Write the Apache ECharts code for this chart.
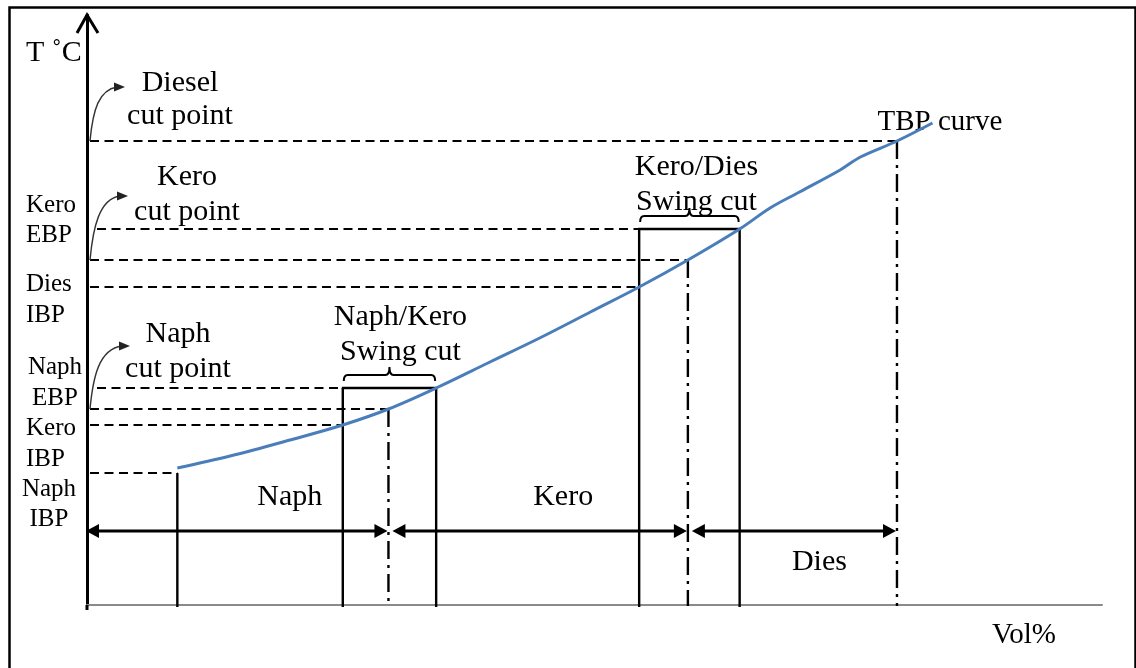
<!DOCTYPE html>
<html>
<head>
<meta charset="utf-8">
<script src="https://cdn.jsdelivr.net/npm/echarts@6/dist/echarts.min.js"></script>
<style>
  html, body { margin: 0; padding: 0; background: #fff; }
  #chart { width: 1136px; height: 668px; }
</style>
</head>
<body>
<div id="chart"></div>
<script>
// ---- data -------------------------------------------------------------
// TBP curve: volume distilled (%) against boiling temperature
const tbpVol  = [8.9, 14.1, 20.0, 25.2, 29.7, 34.4, 39.7, 44.6, 49.6, 54.4, 59.2, 64.3, 67.3, 70.2, 74.2, 76.2, 79.8, 83.3];
const tbpTemp = [137, 149, 165, 180, 196, 217, 243, 267, 293, 318, 345, 376, 397, 413, 435, 448, 464, 482];

// Characteristic points read on the TBP curve
const pointNames = ['Naph IBP', 'Kero IBP', 'Naph cut point', 'Naph EBP', 'Dies IBP', 'Kero cut point', 'Kero EBP', 'Diesel cut point'];
const pointVol   = [8.9, 25.2, 29.7, 34.4, 54.4, 59.2, 64.3, 79.8];
const pointTemp  = [132, 180, 196, 217, 318, 345, 376, 464];

// Swing cuts: from the heavier product's IBP up to the lighter product's EBP
const swingNames   = ['Naph/Kero', 'Kero/Dies'];
const swingStart   = ['Kero IBP', 'Dies IBP'];
const swingEnd     = ['Naph EBP', 'Kero EBP'];
const swingCaption = 'Swing cut';

// Products lie between successive cut points
const productNames = ['Naph', 'Kero', 'Dies'];
const productFrom  = [null, 'Naph cut point', 'Kero cut point'];
const productTo    = ['Naph cut point', 'Kero cut point', 'Diesel cut point'];

const axisNameX = 'Vol%';
const axisNameY = 'T ˚C';
const curveName = 'TBP curve';

// ---- look & layout ----------------------------------------------------
const FONT = '"Liberation Serif", "Times New Roman", Times, serif';
const BIG = 30, SIDE = 25;
const INK = '#000';
const CURVE = '#4a7ebb';
const DASH = [9, 5.5];
const DASH_DOT = [18, 6, 3, 6];
const ARROW_LEVEL = 74;          // px above the Vol% axis for the range arrows

const sideLabelLayout = {
  'Kero EBP': { x: 26, align: 'left',   dy: [-16, 14] },
  'Dies IBP': { x: 26, align: 'left',   dy: [5, 36] },
  'Naph EBP': { x: 55, align: 'center', dy: [-13, 18] },
  'Kero IBP': { x: 26, align: 'left',   dy: [11, 42] },
  'Naph IBP': { x: 49, align: 'center', dy: [24, 54] }
};
const cutLabelLayout = {
  'Naph cut point':   { tip: [43, -63], dx: 91,  dy: [-65, -30] },
  'Kero cut point':   { tip: [41, -64], dx: 100, dy: [-73, -38] },
  'Diesel cut point': { tip: [38, -54], dx: 93,  dy: [-48, -15] }
};
const swingLayout   = [{ dx: 11, dy: [-61, -26] }, { dx: 7, dy: [-52, -17] }];
const productLayout = [{ dx: 52, dy: -24 }, { dx: 25, dy: -24 }, { dx: 27, dy: 41 }];

// ---- helpers ----------------------------------------------------------
const idx = name => pointNames.indexOf(name);
const volOf = name => (name == null ? 0 : pointVol[idx(name)]);
const tempOf = name => pointTemp[idx(name)];
const splitName = name => { const k = name.indexOf(' '); return [name.slice(0, k), name.slice(k + 1)]; };

function textEl(str, x, baseline, size, align) {
  return {
    type: 'text', x: x, y: baseline - 0.32 * size,
    style: { text: str, fill: INK, font: size + 'px ' + FONT, align: align || 'center', verticalAlign: 'middle' }
  };
}
function seg(x1, y1, x2, y2, width, dash, color) {
  return {
    type: 'line', shape: { x1: x1, y1: y1, x2: x2, y2: y2 },
    style: { stroke: color || INK, lineWidth: width, lineDash: dash || null, lineCap: 'butt' }
  };
}
function head(tipX, tipY, dir, len, half, color) {
  const bx = tipX - dir * len;
  return {
    type: 'polygon',
    shape: { points: [[tipX, tipY], [bx, tipY - half], [bx, tipY + half]] },
    style: { fill: color || INK }
  };
}

// ---- renderers --------------------------------------------------------
function renderPoint(params, api) {
  const name = pointNames[params.dataIndex];
  const p = api.coord([api.value(0), api.value(1)]);
  const axisX = api.coord([0, api.value(1)])[0];
  const yBase = api.coord([0, 0])[1];
  const isCut = name.indexOf('cut point') >= 0;
  const isEBP = /EBP$/.test(name);
  const inSwing = swingStart.indexOf(name) >= 0;
  const kids = [];

  // horizontal guide from the T axis to the curve
  kids.push(seg(axisX + (isEBP ? 10 : 3), p[1], p[0], p[1], 2, DASH));

  // vertical drop to the Vol% axis
  if (isCut) kids.push(seg(p[0], p[1], p[0], yBase + 1, 2.4, DASH_DOT));
  else if (!inSwing && !isEBP) kids.push(seg(p[0], p[1], p[0], yBase + 2, 2.4));

  const lines = splitName(name);
  if (isCut) {
    const L = cutLabelLayout[name];
    const sx = axisX + 3, sy = p[1];
    const tx = axisX + L.tip[0], ty = p[1] + L.tip[1];
    kids.push({
      type: 'bezierCurve',
      shape: { x1: sx, y1: sy, cpx1: sx + 3, cpy1: sy - 32, cpx2: sx + 9, cpy2: ty + 3, x2: tx - 8, y2: ty },
      style: { stroke: '#333', lineWidth: 1.4, fill: null }
    });
    kids.push(head(tx, ty, 1, 11, 4.5, '#222'));
    kids.push(textEl(lines[0], axisX + L.dx, p[1] + L.dy[0], BIG, 'center'));
    kids.push(textEl(lines[1], axisX + L.dx, p[1] + L.dy[1], BIG, 'center'));
  } else {
    const L = sideLabelLayout[name];
    kids.push(textEl(lines[0], L.x, p[1] + L.dy[0], SIDE, L.align));
    kids.push(textEl(lines[1], L.x, p[1] + L.dy[1], SIDE, L.align));
  }
  return { type: 'group', children: kids };
}

function renderSwing(params, api) {
  const k = params.dataIndex;
  const left = api.coord([api.value(0), api.value(2)]);
  const right = api.coord([api.value(1), api.value(2)]);
  const yBase = api.coord([0, 0])[1] + 2;
  const yt = left[1];
  const kids = [
    seg(left[0], yt, left[0], yBase, 2.4),
    seg(right[0], yt, right[0], yBase, 2.4),
    seg(left[0] - 1, yt, right[0] + 1, yt, 2.6)
  ];
  // curly brace over the swing-cut box
  const x1 = left[0] + 1, x2 = right[0] - 1, xm = (left[0] + right[0]) / 2, yb = yt - 13, r = 4, d = 6, t = 8;
  kids.push({
    type: 'path',
    shape: {
      pathData: 'M' + x1 + ',' + (yb + d) + ' Q' + x1 + ',' + yb + ' ' + (x1 + r) + ',' + yb +
        ' L' + (xm - r) + ',' + yb + ' Q' + xm + ',' + yb + ' ' + xm + ',' + (yb - t) +
        ' Q' + xm + ',' + yb + ' ' + (xm + r) + ',' + yb +
        ' L' + (x2 - r) + ',' + yb + ' Q' + x2 + ',' + yb + ' ' + x2 + ',' + (yb + d)
    },
    style: { stroke: INK, lineWidth: 2, fill: null }
  });
  const L = swingLayout[k];
  const cx = xm + L.dx;
  kids.push(textEl(swingNames[k], cx, yt + L.dy[0], BIG, 'center'));
  kids.push(textEl(swingCaption, cx, yt + L.dy[1], BIG, 'center'));
  return { type: 'group', children: kids };
}

function renderProduct(params, api) {
  const k = params.dataIndex;
  const yBase = api.coord([0, 0])[1];
  const y = yBase - ARROW_LEVEL;
  const a = api.coord([api.value(0), 0])[0];
  const b = api.coord([api.value(1), 0])[0];
  const la = api.value(0) === 0 ? a - 1 : a + 4;   // left tip
  const rb = b - 1;                                  // right tip
  const L = productLayout[k];
  return {
    type: 'group',
    children: [
      seg(la + 10, y, rb - 10, y, 3),
      head(la, y, -1, 13, 7),
      head(rb, y, 1, 13, 7),
      textEl(productNames[k], (a + b) / 2 + L.dx, y + L.dy, BIG, 'center')
    ]
  };
}

function renderFrame(params, api) {
  const top = api.coord([0, 590]);
  const base = api.coord([0, 0]);
  const end = api.coord([api.value(0), api.value(1)]);
  return {
    type: 'group',
    children: [
      // open arrow tip of the T axis and its short tail below the Vol% axis
      {
        type: 'polyline',
        shape: { points: [[top[0] - 10, top[1] + 18], [top[0], top[1]], [top[0] + 11, top[1] + 18]] },
        style: { stroke: INK, lineWidth: 3, fill: null, lineJoin: 'miter' }
      },
      seg(base[0], base[1], base[0], base[1] + 5, 3),
      textEl(curveName, end[0] - 55, end[1] + 9, 29, 'left'),
      textEl(axisNameY, 26, 63, BIG, 'left'),
      textEl(axisNameX, 992, 645, 29, 'left')
    ]
  };
}

// ---- chart ------------------------------------------------------------
const chart = echarts.init(document.getElementById('chart'), null, { renderer: 'canvas' });

chart.setOption({
  animation: false,
  backgroundColor: '#fff',
  grid: { left: 87, right: 34, top: 15, bottom: 63, containLabel: false },
  xAxis: {
    type: 'value', min: 0, max: 100,
    axisLine: { show: true, lineStyle: { color: '#8a8a8a', width: 2 } },
    axisTick: { show: false }, axisLabel: { show: false }, splitLine: { show: false }
  },
  yAxis: {
    type: 'value', min: 0, max: 590,
    axisLine: { show: true, lineStyle: { color: INK, width: 3 } },
    axisTick: { show: false }, axisLabel: { show: false }, splitLine: { show: false }
  },
  graphic: [{
    type: 'rect', left: 7, top: 5, z: 0,
    shape: { x: 0, y: 0, width: 1126, height: 700 },
    style: { fill: null, stroke: INK, lineWidth: 2.5 }
  }],
  series: [
    {
      type: 'custom', name: 'points', clip: false, z: 3,
      renderItem: renderPoint,
      data: pointNames.map((n, i) => [pointVol[i], pointTemp[i]])
    },
    {
      type: 'custom', name: 'swing cuts', clip: false, z: 3,
      renderItem: renderSwing,
      data: swingNames.map((n, k) => [volOf(swingStart[k]), volOf(swingEnd[k]), tempOf(swingEnd[k])])
    },
    {
      type: 'custom', name: 'products', clip: false, z: 3,
      renderItem: renderProduct,
      data: productNames.map((n, k) => [volOf(productFrom[k]), volOf(productTo[k])])
    },
    {
      type: 'custom', name: 'frame', clip: false, z: 3,
      renderItem: renderFrame,
      data: [[tbpVol[tbpVol.length - 1], tbpTemp[tbpTemp.length - 1]]]
    },
    {
      type: 'line', name: curveName, z: 6, clip: false,
      smooth: 0.35, showSymbol: false, symbol: 'none',
      lineStyle: { color: CURVE, width: 3 },
      data: tbpVol.map((v, i) => [v, tbpTemp[i]])
    }
  ]
});
</script>
</body>
</html>
